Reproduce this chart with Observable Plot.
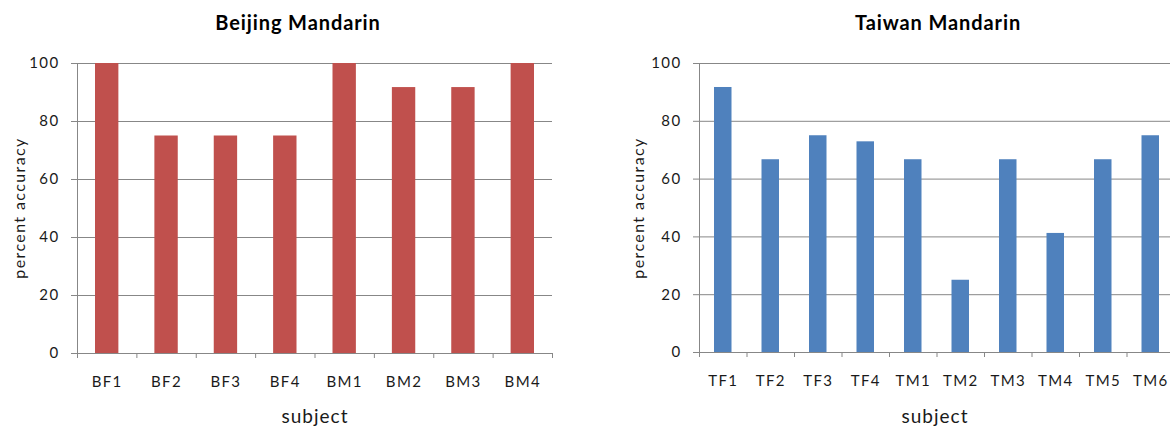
<!DOCTYPE html>
<html>
<head>
<meta charset="utf-8">
<script src="https://cdn.jsdelivr.net/npm/d3@7"></script>
<script src="https://cdn.jsdelivr.net/npm/@observablehq/plot@0.6"></script>
<style>
  html, body { margin: 0; padding: 0; background: #fff; }
  #page { position: relative; width: 1170px; height: 427px; overflow: hidden; font-family: Lato, "Open Sans", sans-serif; color: #1a1a1a; }
  .panel { position: absolute; top: 0; overflow: hidden; height: 427px; }
  .panel svg { max-width: none !important; }
  .lbl { position: absolute; transform: translate(-50%, -50%); white-space: nowrap; }
  .title { font-weight: bold; font-size: 20px; letter-spacing: 0.9px; color: #000; }
  .xlab { font-size: 19px; letter-spacing: 1px; }
  .ylab { font-size: 16px; letter-spacing: 1.4px; transform: translate(-50%, -50%) rotate(-90deg); }
</style>
</head>
<body>
<div id="page">
  <div class="panel" id="left" style="left:0px;width:600px;"></div>
  <div class="panel" id="right" style="left:620px;width:550px;"></div>
  <div class="lbl title" style="left:298px;top:22px;">Beijing Mandarin</div>
  <div class="lbl title" style="left:938px;top:22px;">Taiwan Mandarin</div>
  <div class="lbl xlab" style="left:315px;top:415px;">subject</div>
  <div class="lbl xlab" style="left:935px;top:415px;">subject</div>
  <div class="lbl ylab" style="left:18px;top:208px;">percent accuracy</div>
  <div class="lbl ylab" style="left:637px;top:208px;">percent accuracy</div>
</div>
<script>
const bjCategories = ["BF1", "BF2", "BF3", "BF4", "BM1", "BM2", "BM3", "BM4"];
const bjValues = [100, 75, 75, 75, 100, 91.7, 91.7, 100];
const twCategories = ["TF1", "TF2", "TF3", "TF4", "TM1", "TM2", "TM3", "TM4", "TM5", "TM6"];
const twValues = [91.7, 66.7, 75, 72.9, 66.7, 25, 66.7, 41.2, 66.7, 75];
const yTicks = [0, 20, 40, 60, 80, 100];

const gridColor = "#878787";

function makeChart(cats, vals, color, o) {
  const n = cats.length;
  const data = cats.map((c, i) => ({i, cat: c, value: vals[i]}));
  return Plot.plot({
    width: o.width,
    height: 427,
    marginTop: 63,
    marginBottom: o.marginBottom,
    marginLeft: o.marginLeft,
    marginRight: o.marginRight,
    style: {fontFamily: "Lato, 'Open Sans', sans-serif", fontSize: "15px", letterSpacing: "1.4px", color: "#1a1a1a", background: "transparent", maxWidth: "none"},
    x: {domain: [0, n], axis: null},
    y: {domain: [0, 100], axis: null},
    marks: [
      Plot.gridY(yTicks, {stroke: gridColor, strokeOpacity: 1, strokeWidth: 1}),
      Plot.axisY(yTicks, {tickSize: 6, tickPadding: 12, stroke: gridColor, label: null, fontSize: 15, tickFormat: d => String(d)}),
      Plot.rectY(data, {x1: d => d.i, x2: d => d.i + 1, y: "value", fill: color, insetLeft: o.inset, insetRight: o.inset}),
      Plot.ruleX([0], {stroke: gridColor, strokeWidth: 1}),
      Plot.ruleY([0], {stroke: gridColor, strokeWidth: 1}),
      Plot.axisX(d3.range(n + 1), {tickSize: 5, tickFormat: () => "", stroke: gridColor, label: null}),
      Plot.axisX(d3.range(n).map(i => i + 0.5), {tickSize: 0, tickPadding: 23, fontSize: 15, label: null, tickFormat: d => cats[Math.round(d - 0.5)]})
    ]
  });
}

document.getElementById("left").append(
  makeChart(bjCategories, bjValues, "#C0504D", {width: 600, marginLeft: 77, marginRight: 48, marginBottom: 74, inset: 18})
);
document.getElementById("right").append(
  makeChart(twCategories, twValues, "#4F81BD", {width: 560, marginLeft: 79, marginRight: 6, marginBottom: 75, inset: 15})
);
</script>
</body>
</html>
